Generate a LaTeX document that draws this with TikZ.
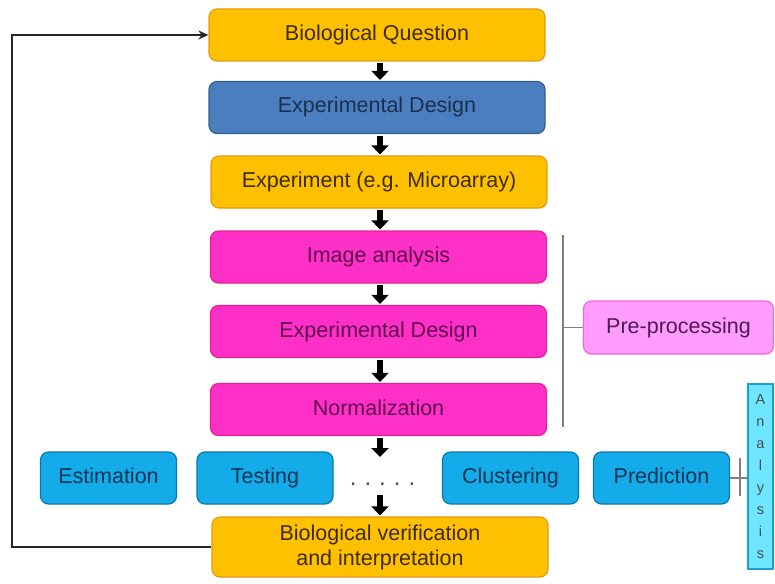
\documentclass[tikz,border=0pt]{standalone}
\usepackage{fontspec}
\setmainfont{Liberation Sans}
\usepackage{tikz}
\usetikzlibrary{arrows.meta,positioning,calc}
\definecolor{goldfill}{HTML}{FFC000}
\definecolor{goldline}{HTML}{E39A10}
\definecolor{goldtext}{HTML}{3D2C00}
\definecolor{bluefill}{HTML}{4A7EBF}
\definecolor{blueline}{HTML}{385D8A}
\definecolor{bluetext}{HTML}{1B2F4F}
\definecolor{pinkfill}{HTML}{FF30C8}
\definecolor{pinkline}{HTML}{E8208C}
\definecolor{pinktext}{HTML}{5E0A4E}
\definecolor{prefill}{HTML}{FF9CFF}
\definecolor{preline}{HTML}{FF5FD8}
\definecolor{pretext}{HTML}{4E1A4E}
\definecolor{skyfill}{HTML}{14ACE8}
\definecolor{skyline}{HTML}{0B78AE}
\definecolor{skytext}{HTML}{0B3558}
\definecolor{anafill}{HTML}{6FE6FF}
\definecolor{analine}{HTML}{1C9ED2}
\tikzset{
	box/.style={rectangle,rounded corners=8pt,line width=1.2pt,minimum width=336pt,minimum height=52pt,inner sep=2pt,align=center,font=\fontsize{21.5}{25}\selectfont},
	oneline/.style={text height=15.5pt,text depth=4.5pt},
	goldtwo/.style={box,fill=goldfill,draw=goldline,text=goldtext},
	gold/.style={goldtwo,oneline},
	navy/.style={box,oneline,fill=bluefill,draw=blueline,text=bluetext},
	pink/.style={box,oneline,fill=pinkfill,draw=pinkline,text=pinktext},
	prebox/.style={box,oneline,minimum width=190pt,minimum height=53pt,fill=prefill,draw=preline,text=pretext},
	sky/.style={box,oneline,minimum width=136pt,minimum height=52pt,fill=skyfill,draw=skyline,text=skytext},
	anabox/.style={rectangle,line width=1.2pt,fill=anafill,draw=analine,minimum width=25pt,minimum height=185pt,inner sep=0pt,align=center,text=black!70,font=\fontsize{14.5}{22}\selectfont},
	fat/.style={line width=6pt,-{Triangle[width=17pt,length=9pt]},shorten <=1.5pt,shorten >=1pt},
	fb/.style={line width=2pt,draw=black!85,-{Stealth[length=10pt,width=9pt]}},
	brk/.style={line width=1.8pt,draw=black!50}}
\begin{document}
\begin{tikzpicture}[x=1pt,y=-1pt]
		\useasboundingbox (0,0) rectangle (775,583);
		\node (q) at (377,35) [gold] {Biological Question};
		\node (des) at (377,107.5) [navy] {Experimental Design};
		\node (exp) at (379,182) [gold] {Experiment (e.g. Microarray)};
		\node (img) at (378.5,257) [pink] {Image analysis};
		\node (des2) at (378.5,331.5) [pink] {Experimental Design};
		\node (norm) at (378.5,409.5) [pink] {Normalization};
		\node (est) at (108.5,478) [sky] {Estimation};
		\node (test) at (265,478) [sky] {Testing};
		\node (dots) at (382.5,485) [anchor=base,inner sep=0pt,font=\fontsize{24}{25}\selectfont,text=black!70] {.\,\,.\,\,.\,\,.\,\,.};
		\node (clus) at (510.5,478) [sky] {Clustering};
		\node (pred) at (661.5,478) [sky] {Prediction};
		\node (bv) at (380,547) [goldtwo,minimum height=60pt] {Biological verification\\ and interpretation};
		\node (pre) at (678.5,327.5) [prebox] {Pre-processing};
		\node (ana) at (760.5,476.5) [anabox] {A\\n\\a\\l\\y\\s\\i\\s};
		\coordinate (gapT) at (380,458);
		\coordinate (gapB) at (380,493);
		\coordinate (loop) at (12,547);
		\coordinate (ppT) at (563,235);
		\coordinate (ppB) at (563,427);
		\coordinate (anT) at (740,458);
		\coordinate (anB) at (740,496);
		% main chain
		\draw [fat] (q.south -| gapT) -- (gapT |- des.north);
		\draw [fat] (des.south -| gapT) -- (gapT |- exp.north);
		\draw [fat] (exp.south -| gapT) -- (gapT |- img.north);
		\draw [fat] (img.south -| gapT) -- (gapT |- des2.north);
		\draw [fat] (des2.south -| gapT) -- (gapT |- norm.north);
		\draw [fat] (norm.south -| gapT) -- (gapT);
		\draw [fat] (gapB) -- (gapB |- bv.north);
		% feedback
		\draw [fb] (bv.west) -- (loop) |- (q.west);
		% brackets
		\draw [brk] (ppT) -- (ppB);
		\draw [brk] (ppT |- pre.west) -- (pre.west);
		\draw [brk] (anT) -- (anB);
		\draw [brk] (pred.east) -- (pred.east -| ana.west);
\end{tikzpicture}
\end{document}
